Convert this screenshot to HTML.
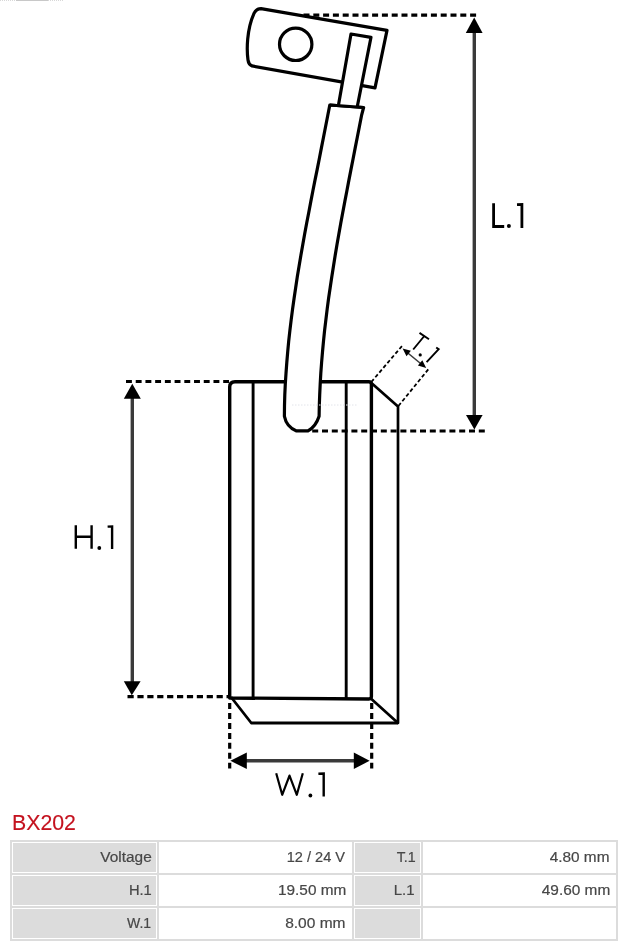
<!DOCTYPE html>
<html><head><meta charset="utf-8">
<style>
html,body{margin:0;padding:0;background:#fff;}
body{width:632px;height:946px;position:relative;overflow:hidden;font-family:"Liberation Sans",sans-serif;}
svg.d{position:absolute;left:0;top:0;}
.title{position:absolute;left:11.6px;top:811px;font-size:21.3px;color:#c4121f;-webkit-text-stroke:0.15px #c4121f;line-height:25px;will-change:transform;}
.t{position:absolute;font-size:14px;line-height:15px;color:#474747;-webkit-text-stroke:0.2px #474747;white-space:nowrap;will-change:transform;-webkit-font-smoothing:antialiased;}
.t span{display:inline-block;transform-origin:100% 50%;}
table{position:absolute;left:10px;top:840px;border-collapse:separate;border-spacing:2px;background:#dcdcdc;width:608px;}
td{border:1px solid #fff;background:#fff;height:31px;padding:0;box-sizing:border-box;}
td.l{background:#dcdcdc;}
</style></head>
<body>
<svg class="d" width="632" height="946" viewBox="0 0 632 946">
<g fill="none" stroke="#000" stroke-width="3.2" stroke-linejoin="round">
<!-- dashed extension lines -->
<g stroke-width="3.2">
<line x1="303.5" y1="15.2" x2="477.3" y2="15.2" stroke-dasharray="6 3.8"/>
<line x1="312.2" y1="431" x2="485.4" y2="431" stroke-dasharray="6 3.8"/>
<line x1="126" y1="381.5" x2="229" y2="381.5" stroke-dasharray="5.9 3.82"/>
<line x1="127.5" y1="696.6" x2="229" y2="696.6" stroke-dasharray="6.2 3.7"/>
<line x1="229.7" y1="703.1" x2="229.7" y2="768.6" stroke-dasharray="6 3.93"/>
<line x1="371.7" y1="703.1" x2="371.7" y2="768.6" stroke-dasharray="6 3.93"/>
</g>
<g stroke-dasharray="3.8 2.4" stroke-width="1.8">
<line x1="371.3" y1="382" x2="402.5" y2="345.4"/>
<line x1="398.4" y1="406" x2="429" y2="368.5"/>
</g>
<!-- brush body -->
<path d="M229.7,697 L229.7,387 Q229.7,381.8 235,381.8 L368.8,381.8 Q371.4,381.8 371.4,384.4 L371.4,696.6 Q371.4,699 369,699 L229.7,698 Z" stroke-width="3.4"/>
<line x1="253.1" y1="381.8" x2="253.1" y2="698" stroke-width="2.9"/>
<line x1="346.2" y1="381.8" x2="346.2" y2="699" stroke-width="2.9"/>
<path d="M371.4,383 L398,406.6 L398,723 L371.4,699" stroke-width="2.7"/>
<path d="M231,697 L251.3,723 L398,723" stroke-width="2.8"/>
<!-- cable -->
<path fill="#fff" d="M329.8,105.0 L327.7,115.7 L325.6,126.5 L323.5,137.2 L321.4,147.9 L319.3,158.7 L317.2,169.4 L315.0,180.1 L312.9,190.8 L310.8,201.6 L308.8,212.3 L306.7,223.0 L304.7,233.8 L302.8,244.5 L300.9,255.2 L299.1,266.0 L297.3,276.7 L295.7,287.4 L294.1,298.2 L292.6,308.9 L291.2,319.6 L289.9,330.4 L288.7,341.1 L287.7,351.8 L286.8,362.5 L286.0,373.3 L285.3,384.0 L284.8,394.7 L284.5,405.5 L284.4,416.2 Q286.5,427 296.5,430.9 L308,430.9 Q315.8,426.5 319.1,416.2 L319.3,405.5 L319.7,394.7 L320.2,384.0 L320.8,373.3 L321.6,362.5 L322.5,351.8 L323.5,341.1 L324.6,330.4 L325.9,319.6 L327.2,308.9 L328.6,298.2 L330.2,287.4 L331.8,276.7 L333.5,266.0 L335.2,255.2 L337.0,244.5 L338.9,233.8 L340.8,223.0 L342.8,212.3 L344.8,201.6 L346.9,190.8 L348.9,180.1 L351.0,169.4 L353.1,158.7 L355.2,147.9 L357.3,137.2 L359.4,126.5 L361.5,115.7 L363.6,107.5 Z"/>
<!-- lug -->
<path fill="#fff" d="M261,8.6 L387,30.4 L375,87.8 L252,65.9 Q248.6,64.6 248,60 C246.6,50 246.6,30 254,13.4 Q256.3,8.6 261,8.6 Z"/>
<circle cx="295.7" cy="44.3" r="16.2"/>
<!-- wire slot -->
<path fill="#fff" d="M338.4,105.5 L351,34 L371,37.3 L357.3,106.5"/>
<path fill="#fff" d="M329.8,105 L363.6,107.5"/>
</g>
<line x1="0" y1="0.5" x2="64" y2="0.5" stroke="#d8d8d8" stroke-width="1" stroke-dasharray="1 1"/>
<line x1="16" y1="0.5" x2="48" y2="0.5" stroke="#c8c8c8" stroke-width="1"/>
<line x1="292" y1="405" x2="357" y2="405" stroke="#e2e4ea" stroke-width="1" stroke-dasharray="1.5 1.5"/>
<!-- arrows -->
<g stroke="#3a3a3a" stroke-width="3.4" fill="none">
<line x1="474.3" y1="30" x2="474.3" y2="418"/>
<line x1="132.3" y1="396" x2="132.3" y2="684"/>
<line x1="244" y1="760.8" x2="357" y2="760.8"/>
<line x1="406" y1="351.5" x2="423" y2="365.5" stroke-width="1.6"/>
</g>
<g fill="#000">
<polygon points="474.2,17.5 465.8,33 482.6,33"/>
<polygon points="474.4,429.5 466,415 482.6,415"/>
<polygon points="132.3,383.8 123.8,398.8 140.8,398.8"/>
<polygon points="131.8,695.2 123.8,681.3 140.6,681.3"/>
<polygon points="230.4,760.8 246.8,752.6 246.8,769"/>
<polygon points="369.6,760.8 353.8,752.6 353.8,769"/>
<polygon points="402.6,348.5 410.9,350.8 406.5,356.2"/>
<polygon points="426.2,367.9 417.9,365.6 422.3,360.2"/>
</g>
<!-- labels -->
<g fill="none" stroke="#000" stroke-width="2.4">
<path d="M493.6,203.3 L493.6,226.5 L504.2,226.5" stroke-width="2.8"/>
<path d="M517,204.6 L521.9,204.4 L521.9,227.9" stroke-width="2.8"/>
<path d="M75.8,525.3 L75.8,548.7 M91.6,525.3 L91.6,548.7 M75.8,536.7 L91.6,536.7"/>
<path d="M107.6,526.6 L112.1,526.4 L112.1,549"/>
<path d="M276.2,773.3 L282.2,794.8 L289.5,775.6 L296.8,794.8 L302.8,773.3" stroke-linejoin="round" stroke-width="2.2"/>
<path d="M318.4,773.8 L323.7,773.6 L323.7,796.4"/>
</g>
<g fill="#000">
<circle cx="508.9" cy="226" r="2"/>
<circle cx="99.3" cy="548" r="1.9"/>
<circle cx="310.4" cy="795.5" r="1.9"/>
<circle cx="420.2" cy="354.9" r="1.6"/>
</g>
<g fill="none" stroke="#000" stroke-width="1.9">
<path d="M419.5,332.9 L429,339.2 M424.3,336 L413.2,349.5"/>
<path d="M436.2,347.4 L438.7,349.2 L426.6,362.2"/>
</g>
</svg>
<div class="title">BX202</div>
<table>
<tr><td class="l" style="width:145px"></td><td style="width:193px"></td><td class="l" style="width:67px"></td><td style="width:193px"></td></tr>
<tr><td class="l"></td><td></td><td class="l"></td><td></td></tr>
<tr><td class="l"></td><td></td><td class="l"></td><td></td></tr>
</table>
<div class="t" style="right:480px;top:850px"><span style="transform:scaleX(1.10)">Voltage</span></div>
<div class="t" style="right:480.3px;top:883px"><span style="transform:scaleX(1.05)">H.1</span></div>
<div class="t" style="right:480.5px;top:916px"><span style="transform:scaleX(1.0)">W.1</span></div>
<div class="t" style="right:286.6px;top:850px"><span style="transform:scaleX(1.04)">12 / 24 V</span></div>
<div class="t" style="right:286.1px;top:883px"><span style="transform:scaleX(1.096)">19.50 mm</span></div>
<div class="t" style="right:286.6px;top:916px"><span style="transform:scaleX(1.107)">8.00 mm</span></div>
<div class="t" style="right:216.6px;top:850px"><span style="transform:scaleX(1.015)">T.1</span></div>
<div class="t" style="right:217.4px;top:883px"><span style="transform:scaleX(1.07)">L.1</span></div>
<div class="t" style="right:22.1px;top:850px"><span style="transform:scaleX(1.098)">4.80 mm</span></div>
<div class="t" style="right:21.5px;top:883px"><span style="transform:scaleX(1.1)">49.60 mm</span></div>
</body></html>
